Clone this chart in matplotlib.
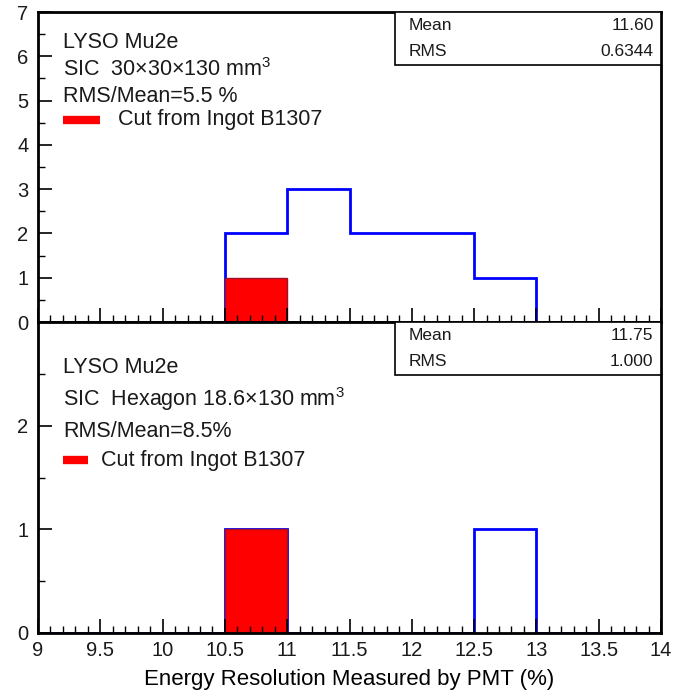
import matplotlib
matplotlib.use('Agg')
import matplotlib.pyplot as plt
from matplotlib.ticker import MultipleLocator, FixedLocator, FormatStrFormatter
from matplotlib.patches import Rectangle

plt.rcParams['font.family'] = ['Liberation Sans', 'DejaVu Sans']
plt.rcParams['mathtext.fontset'] = 'custom'
plt.rcParams['mathtext.rm'] = 'Liberation Sans'
plt.rcParams['text.color'] = '#1a1a1a'

# bin edges, 0.5 wide from 9 to 14
edges = [9.0, 9.5, 10.0, 10.5, 11.0, 11.5, 12.0, 12.5, 13.0, 13.5, 14.0]

# square 30x30x130 crystals
sq_all = [0, 0, 0, 2, 3, 2, 2, 1, 0, 0]
sq_b1307 = [0, 0, 0, 1, 0, 0, 0, 0, 0, 0]
sq_stats = ('11.60', '0.6344')
sq_lines = ['LYSO Mu2e', 'SIC  30\u00d730\u00d7130 mm$^{\\rm 3}$', 'RMS/Mean=5.5 %']

# hexagon crystals
hex_all = [0, 0, 0, 1, 0, 0, 0, 1, 0, 0]
hex_b1307 = [0, 0, 0, 1, 0, 0, 0, 0, 0, 0]
hex_stats = ('11.75', '1.000')
hex_lines = ['LYSO Mu2e', 'SIC  Hexagon 18.6\u00d7130 mm$^{\\rm 3}$', 'RMS/Mean=8.5%']

legend_label = 'Cut from Ingot B1307'
xlabel = 'Energy Resolution Measured by PMT (%)'

W, H = 688, 700
fig = plt.figure(figsize=(W / 100, H / 100), dpi=100)


def px_axes(x0, y0, x1, y1):
    return fig.add_axes([x0 / W, 1 - y1 / H, (x1 - x0) / W, (y1 - y0) / H])


ax_top = px_axes(38, 12, 661, 322)
ax_bot = px_axes(38, 322, 661, 633)


def draw_panel(ax, blue, red, stats, lines, ymax, text_y, leg_y, leg_x):
    ax.stairs(blue, edges, color='#0000ff', lw=2, baseline=0)
    ax.stairs(red, edges, fill=True, facecolor='#ff0000', edgecolor='#a0102a', lw=1)
    ax.set_xlim(9, 14)
    ax.set_ylim(0, ymax)
    ax.xaxis.set_major_locator(MultipleLocator(0.5))
    ax.xaxis.set_minor_locator(MultipleLocator(0.1))
    ax.xaxis.set_major_formatter(FormatStrFormatter('%g'))
    ax.tick_params(axis='both', which='major', direction='in', length=10, width=1.2,
                   labelsize=14.5, colors='black', labelcolor='#1a1a1a',
                   top=False, right=False)
    ax.tick_params(axis='both', which='minor', direction='in', length=5, width=1,
                   top=False, right=False)
    ax.tick_params(axis='y', pad=7)
    for s in ax.spines.values():
        s.set_linewidth(2)

    # stats box in the upper right corner
    bx, bh = 0.573, 0.172
    ax.add_patch(Rectangle((bx, 1 - bh), 1 - bx, bh, transform=ax.transAxes,
                           facecolor='white', edgecolor='black', lw=1.2, zorder=5))
    for i, (name, val) in enumerate(zip(['Mean', 'RMS'], stats)):
        yy = 1 - 0.043 - i * 0.085
        ax.text(0.595, yy, name, transform=ax.transAxes, fontsize=12.5, va='center', zorder=6)
        ax.text(0.988, yy, val, transform=ax.transAxes, fontsize=12.5, va='center',
                ha='right', zorder=6)

    for t, yy in zip(lines, text_y):
        ax.text(0.04, yy, t, transform=ax.transAxes, fontsize=15.5, va='center')
    ax.plot([0.04, leg_x[0]], [leg_y, leg_y], transform=ax.transAxes, color='#ff0000', lw=6,
            solid_capstyle='butt')
    ax.text(leg_x[1], leg_y, legend_label, transform=ax.transAxes, fontsize=15.5, va='center')


draw_panel(ax_top, sq_all, sq_b1307, sq_stats, sq_lines, 7,
           [0.9, 0.813, 0.726], 0.652, (0.1, 0.128))
ax_top.yaxis.set_major_locator(MultipleLocator(1))
ax_top.yaxis.set_minor_locator(MultipleLocator(0.5))
ax_top.tick_params(axis='x', labelbottom=False)

draw_panel(ax_bot, hex_all, hex_b1307, hex_stats, hex_lines, 3,
           [0.855, 0.753, 0.648], 0.555, (0.08, 0.101))
ax_bot.yaxis.set_major_locator(FixedLocator([0, 1, 2]))
ax_bot.yaxis.set_minor_locator(FixedLocator([0.5, 1.5, 2.5]))
ax_bot.tick_params(axis='x', pad=6)
ax_bot.set_xlabel(xlabel, fontsize=16, labelpad=6)

fig.savefig('out.png', dpi=100)
